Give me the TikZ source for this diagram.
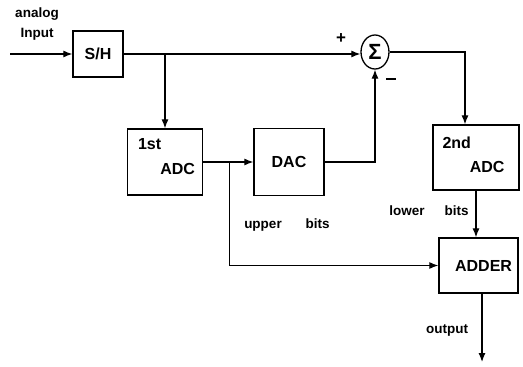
\documentclass[tikz,border=0pt]{standalone}
\usepackage{fontspec}
\setmainfont{Liberation Sans}
\usepackage{tikz}
\usetikzlibrary{shapes.geometric, arrows.meta, positioning, calc}
\tikzset{
  block/.style={
    rectangle, draw=black, line width=1.3pt,
    minimum width=75pt, minimum height=66pt, inner sep=3pt,
    text centered, font=\fontsize{16}{18}\selectfont\bfseries,
  },
  btext/.style={inner sep=0pt, font=\fontsize{16}{18}\selectfont\bfseries},
  summer/.style={
    ellipse, draw=black, line width=1.3pt,
    minimum width=28pt, minimum height=34pt, inner sep=0pt,
    font=\fontsize{22}{22}\selectfont\bfseries,
  },
  arrow/.style={-{Latex[length=9pt,width=7pt]}, line width=1.2pt},
  lbl/.style={inner sep=0pt, font=\fontsize{13.5}{15}\selectfont\bfseries},
  sign/.style={inner sep=0pt, font=\fontsize{17}{17}\selectfont\bfseries},
}

\begin{document}
\begin{tikzpicture}[x=1pt,y=-1pt]
  \useasboundingbox (0,0) rectangle (523,367);
  \coordinate (in) at (10,54);
  \node[block,minimum width=50pt,minimum height=46pt] (sh) at (98,54) {S/H};
  \node[summer] (sum) at (375,52) {Σ};
  \node[block,
    label={[btext,anchor=north west,xshift=11pt,yshift=-10pt]north west:1st},
    label={[btext,anchor=south east,xshift=-8pt,yshift=21pt]south east:ADC}]
    (adc1) at (165,162) {};
  \node[block,minimum width=70pt,minimum height=67pt] (dac) at (289,162) {DAC};
  \node[block,minimum width=86pt,minimum height=65pt,
    label={[btext,anchor=north west,xshift=10pt,yshift=-12pt]north west:2nd},
    label={[btext,anchor=south east,xshift=-15pt,yshift=18pt]south east:ADC}]
    (adc2) at (476,157.5) {};
  \node[block,minimum width=79pt,minimum height=55pt,text width=67pt,align=right] (adder) at (478.5,265.5) {ADDER};
  \coordinate (tap) at ($(adc1.east)!0.52!(dac.west)$);
  \coordinate (out) at (482,362);

  % labels
  \node[lbl,align=center] (inlbl) at (37,24) {analog\\[5pt]Input};
  \node[sign] (plus) at (341,39) {+};
  \node[sign] (minus) at (391,79) {\rule{10pt}{2.2pt}};
  \node[lbl] (upper) at (287,225) {upper\hspace{24pt}bits};
  \node[lbl] (lower) at (429,211) {lower\hspace{20pt}bits};
  \node[lbl] (outlbl) at (447,330) {output};

  % connectors
  \draw[arrow] (in)--(sh.west);
  \draw[arrow] (sh.east)--(sh.east -| sum.west);
  \draw[arrow] (sh.east -| adc1.north)--(adc1.north);
  \draw[arrow] (adc1.east)--(dac.west);
  \draw[arrow] (dac.east) -| (sum.south);
  \draw[arrow] (sum.east) -| ([xshift=-11pt]adc2.north);
  \draw[arrow] (tap) |- (adder.west);
  \draw[arrow] (adc2.south)--(adc2.south |- adder.north);
  \draw[arrow] ([xshift=3.5pt]adder.south)--(out);
\end{tikzpicture}
\end{document}
